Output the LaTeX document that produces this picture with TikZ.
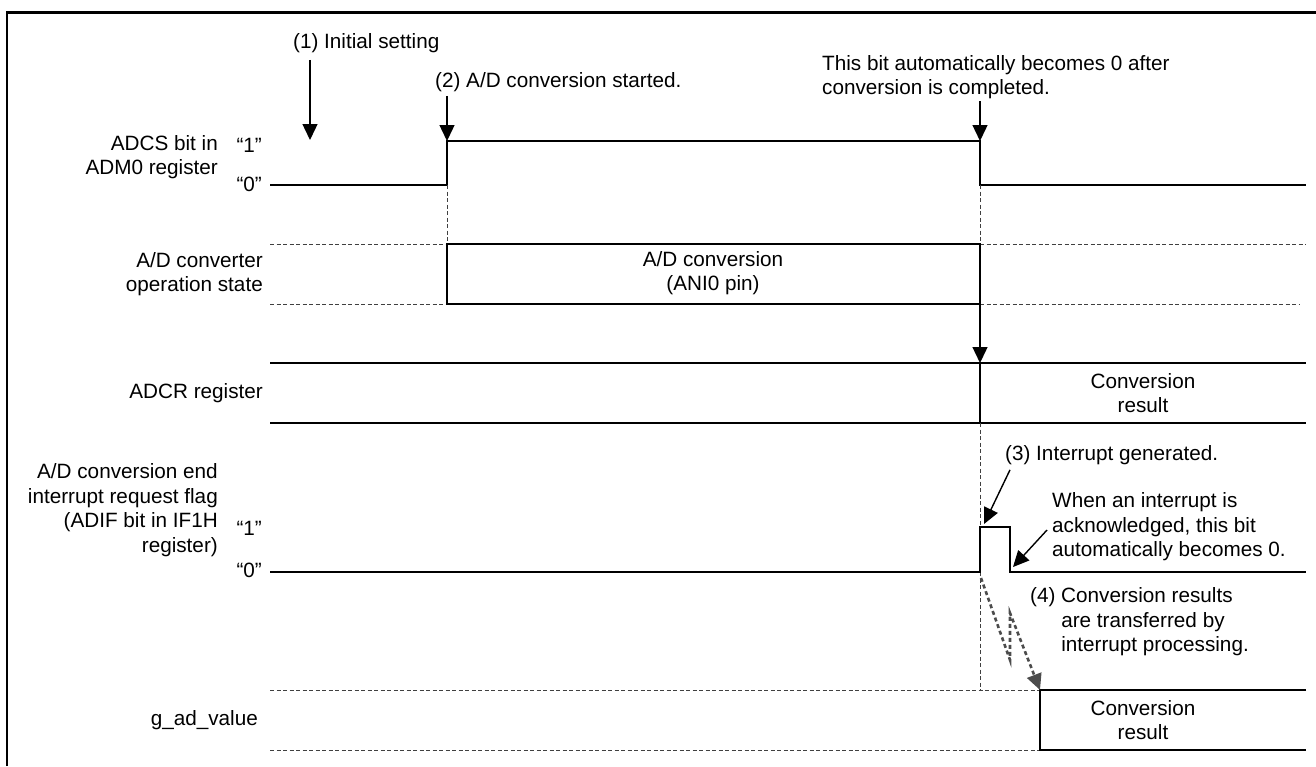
\documentclass[tikz,border=0pt]{standalone}
\usepackage{fontspec}
\setmainfont{Liberation Sans}
\usetikzlibrary{arrows.meta}

\begin{document}
\begin{tikzpicture}[x=1pt, y=-1pt,
    font=\fontsize{20.7}{24.5}\selectfont,
    wave/.style={line width=1.4pt},
    guide/.style={line width=0.7pt, black!75, dash pattern=on 4pt off 2.5pt},
    pointer/.style={line width=1.4pt, -{Triangle[length=16pt,width=15pt]}},
    transfer/.style={line width=2.6pt, black!70, dash pattern=on 4pt off 3pt, -{Triangle[length=16pt,width=15pt]}},
    lbl/.style={anchor=east, align=right, inner sep=0pt},
    note/.style={anchor=west, align=left, inner sep=0pt}]
    \useasboundingbox (0,0) rectangle (1316,766);
    \draw[line width=2.5pt] (7,766) -- (7,12.5) -- (1316,12.5);

    \coordinate (rise) at (447,141);
    \coordinate (fall) at (980,141);
    \coordinate (busyend) at (980,304);
    \coordinate (latch) at (980,363);
    \coordinate (pulse) at (984,524);
    \coordinate (clear) at (1013,567);
    \coordinate (zz0) at (981,578);
    \coordinate (zz1) at (1010,660);
    \coordinate (zz2) at (1010,613);
    \coordinate (store) at (1040,690);

    \node[lbl] (adcs) at (218,157) {ADCS bit in\\ADM0 register};
    \node[lbl] (adcs1) at (262,145) {“1”};
    \node[lbl] (adcs0) at (262,184) {“0”};
    \node[lbl] (state) at (263,274) {A/D converter\\operation state};
    \node[lbl] (adcr) at (263,393) {ADCR register};
    \node[lbl] (adif) at (218,510) {A/D conversion end\\interrupt request flag\\(ADIF bit in IF1H\\register)};
    \node[lbl] (adif1) at (262,528) {“1”};
    \node[lbl] (adif0) at (262,570) {“0”};
    \node[lbl] (gval) at (258,720) {g\_ad\_value};

    \draw[wave] (270,185) -- (447,185) -- (rise) -- (fall) -- (980,185) -- (1306,185);
    \draw[guide] (447,185) -- (447,244);
    \draw[guide] (980,185) -- (980,244);

    \draw[guide] (270,244) -- (447,244) (270,304) -- (447,304);
    \draw[guide] (980,244) -- (1306,244) (980,304) -- (1300,304);
    \draw[wave] (447,244) rectangle (busyend);
    \node (busy) at (713,273) [align=center] {A/D conversion\\(ANI0 pin)};
    \draw[pointer] (busyend) -- (latch);

    \draw[wave] (270,363) -- (1306,363) (270,423) -- (1306,423) (latch) -- (980,423);
    \node (res1) at (1143,393) [align=center] {Conversion\\result};

    \draw[guide] (980,423) -- (980,572) (980,572) -- (980,690);
    \draw[wave] (270,572) -- (980,572) -- (980,527) -- (1010,527) -- (1010,572) -- (1306,572);

    \draw[guide] (270,690) -- (store) (270,750) -- (1040,750);
    \draw[wave] (1306,690) -- (store) -- (1040,750) -- (1306,750);
    \node (res2) at (1143,720) [align=center] {Conversion\\result};

    \node[note] (init) at (293,43) {(1) Initial setting};
    \draw[pointer] ([yshift=-7pt]init.south west -| 310,0) -- (310,140);
    \node[note] (start) at (435,82) {(2) A/D conversion started.};
    \draw[pointer] ([yshift=-4pt]start.south west -| rise) -- (rise);
    \node[note] (done) at (822,77) {This bit automatically becomes 0 after\\conversion is completed.};
    \draw[pointer] ([yshift=-2pt]done.south west -| fall) -- (fall);

    \node[note] (irq) at (1005,455) {(3) Interrupt generated.};
    \draw[pointer] ([xshift=5pt,yshift=-5pt]irq.south west) -- (pulse);
    \node[note] (ack) at (1052,527) {When an interrupt is\\acknowledged, this bit\\automatically becomes 0.};
    \draw[pointer] ([xshift=-5pt,yshift=-3pt]ack.west) -- (clear);

    \node[note] (xfer) at (1030,622) {(4) Conversion results\\\hphantom{(4) }are transferred by\\\hphantom{(4) }interrupt processing.};
    \draw[transfer] (zz0) -- (zz1) -- (zz2) -- (store);
\end{tikzpicture}
\end{document}
